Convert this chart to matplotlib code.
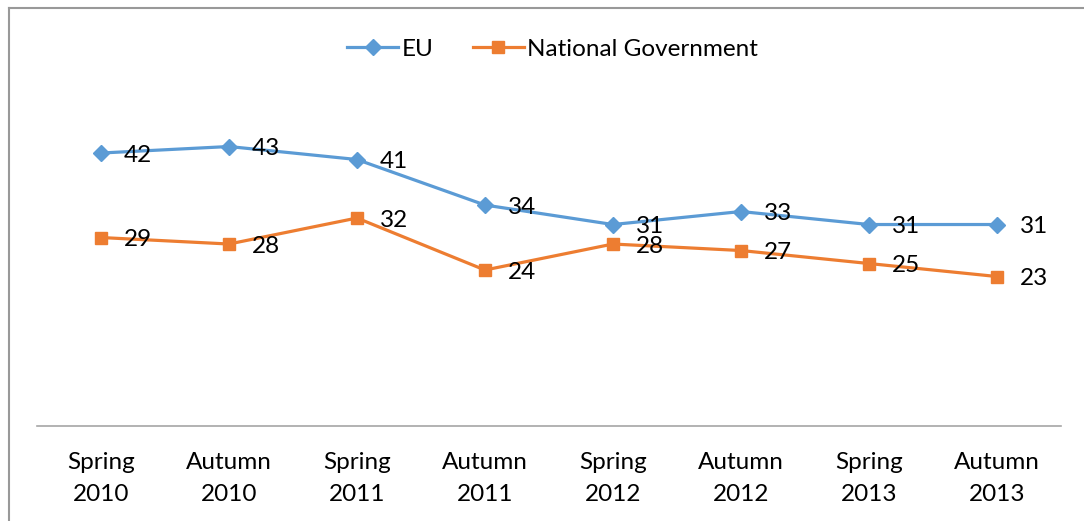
import matplotlib
matplotlib.use('Agg')
import matplotlib.pyplot as plt
from matplotlib.lines import Line2D

plt.rcParams['font.family'] = ['Lato', 'DejaVu Sans']

periods = ['Spring\n2010', 'Autumn\n2010', 'Spring\n2011', 'Autumn\n2011',
           'Spring\n2012', 'Autumn\n2012', 'Spring\n2013', 'Autumn\n2013']
eu = [42, 43, 41, 34, 31, 33, 31, 31]
national = [29, 28, 32, 24, 28, 27, 25, 23]

BLUE = '#5B9BD5'
ORANGE = '#ED7D31'
FS = 17.5

fig = plt.figure(figsize=(10.84, 5.21), dpi=100)
ax = fig.add_axes([0.0341, 0.1823, 0.9446, 0.6238])

xs = list(range(len(periods)))
ax.plot(xs, eu, color=BLUE, linewidth=2.3, marker='D', markersize=8, label='EU')
ax.plot(xs, national, color=ORANGE, linewidth=2.3, marker='s', markersize=8.5,
        label='National Government')

# value labels to the right of each point
for series in (eu, national):
    for x, v in zip(xs, series):
        ax.annotate(str(v), (x, v), xytext=(16.5, -1.5), textcoords='offset points',
                    ha='left', va='center', fontsize=FS, color='black')

ax.set_xlim(-0.5, len(periods) - 0.5)
ax.set_ylim(0, 50)
ax.set_xticks(xs)
ax.set_xticklabels(periods, fontsize=FS, linespacing=1.6)
ax.tick_params(axis='x', length=0, pad=19)
ax.set_yticks([])
for side in ('top', 'right', 'left'):
    ax.spines[side].set_visible(False)
ax.spines['bottom'].set_color('#a6a6a6')
ax.spines['bottom'].set_linewidth(1.2)

ax.legend(loc='center', bbox_to_anchor=(0.51, 0.905), bbox_transform=fig.transFigure,
          ncol=2, frameon=False, fontsize=FS, handlelength=2.1, handletextpad=0.15,
          columnspacing=1.6)

# outer chart border (top and left edges)
fig.add_artist(Line2D([8.5 / 1084, 1.0], [1 - 7.5 / 521] * 2, transform=fig.transFigure,
                      color='#999999', linewidth=1.5))
fig.add_artist(Line2D([8.5 / 1084] * 2, [0.0, 1 - 7.5 / 521], transform=fig.transFigure,
                      color='#999999', linewidth=1.5))

fig.savefig('out.png', dpi=100)
